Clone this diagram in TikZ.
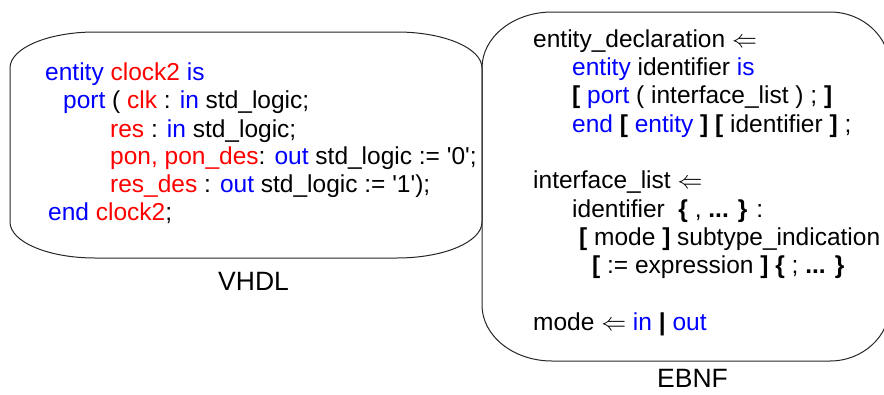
\documentclass[tikz,border=0pt]{standalone}
\usepackage{fontspec}
\setmainfont{Liberation Sans}[Ligatures=TeXOff]
\definecolor{kwblue}{RGB}{0,0,255}
\definecolor{idred}{RGB}{255,0,0}
\newcommand\kw[1]{\textcolor{kwblue}{#1}}
\newcommand\nm[1]{\textcolor{idred}{#1}}
\newcommand\bk[1]{\textbf{#1}}
\newcommand\derives{$\Leftarrow$}
\begin{document}
\begin{tikzpicture}[x=1pt,y=1pt,
  box/.style={draw=black!85,line width=1pt},
  code/.style={anchor=base west,inner sep=0pt,font=\fontsize{24.5}{28}\selectfont},
  caption/.style={anchor=base west,inner sep=0pt,font=\fontsize{26.5}{30}\selectfont}]
\useasboundingbox (0,0) rectangle (884,-394);

% VHDL box
\draw[box] (10,-68) -- (10,-222)
  arc[start angle=180,end angle=270,x radius=85pt,y radius=36pt] -- (397,-258)
  arc[start angle=270,end angle=360,x radius=85pt,y radius=36pt] -- (482,-68)
  arc[start angle=0,end angle=90,x radius=85pt,y radius=36pt] -- (95,-32)
  arc[start angle=90,end angle=180,x radius=85pt,y radius=36pt] -- cycle;

% EBNF box
\draw[box] (482,-68) -- (482,-305)
  arc[start angle=180,end angle=270,x radius=70pt,y radius=56pt] -- (830,-361)
  arc[start angle=270,end angle=360,x radius=60pt,y radius=56pt] -- (890,-68)
  arc[start angle=0,end angle=90,x radius=60pt,y radius=56pt] -- (552,-12)
  arc[start angle=90,end angle=180,x radius=70pt,y radius=56pt] -- cycle;

% VHDL code
\node[code] (v1) at (45,-80) {\kw{entity} \nm{clock2} \kw{is}};
\node[code] (v2) at (63,-108) {\kw{port} ( \nm{clk} : \kw{in} std\_logic;};
\node[code] (v3) at (110,-137) {\nm{res} : \kw{in} std\_logic;};
\node[code] (v4) at (110,-164) {\nm{pon, pon\_des}: \kw{out} std\_logic := '0';};
\node[code] (v5) at (110,-192) {\nm{res\_des} : \kw{out} std\_logic := '1');};
\node[code] (v6) at (48,-220) {\kw{end} \nm{clock2};};
\node[caption] (vhdl) at (218,-290) {VHDL};

% EBNF rules
\node[code] (e1) at (533,-47) {entity\_declaration \derives};
\node[code] (e2) at (572,-75) {\kw{entity} identifier \kw{is}};
\node[code] (e3) at (572,-103) {\bk{[} \kw{port} ( interface\_list ) ; \bk{]}};
\node[code] (e4) at (572,-132) {\kw{end} \bk{[} \kw{entity} \bk{]} \bk{[} identifier \bk{]} ;};
\node[code] (e5) at (533,-188) {interface\_list \derives};
\node[code] (e6) at (572,-217) {identifier\ \ \bk{\{} , \bk{...} \bk{\}} :};
\node[code] (e7) at (579,-245) {\bk{[} mode \bk{]} subtype\_indication};
\node[code] (e8) at (592,-273) {\bk{[} := expression \bk{]} \bk{\{} ; \bk{...} \bk{\}}};
\node[code] (e9) at (533,-330) {mode \derives{} \kw{in} \bk{|} \kw{out}};
\node[caption] (ebnf) at (657,-387) {EBNF};
\end{tikzpicture}
\end{document}
